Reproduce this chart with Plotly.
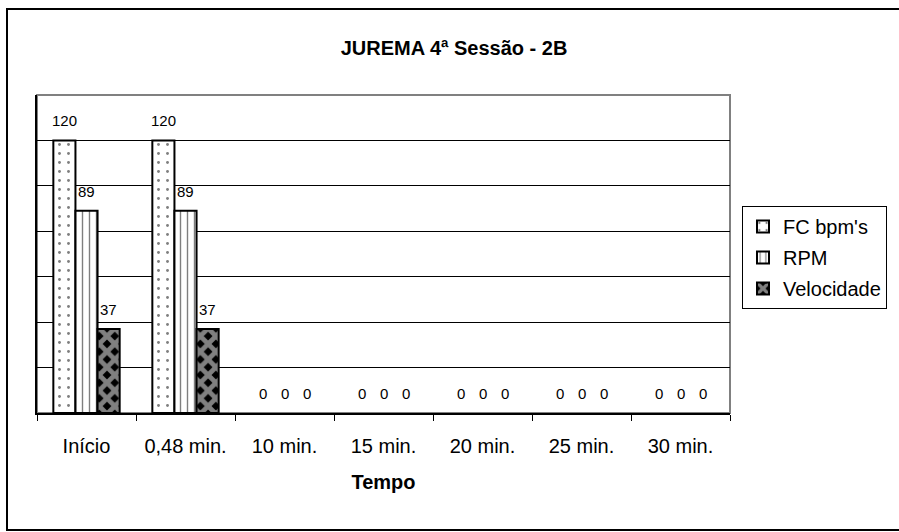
import plotly.graph_objects as go

# Session data: heart rate, cadence and speed at each time point
categories = ["Início", "0,48 min.", "10 min.", "15 min.", "20 min.", "25 min.", "30 min."]
fc_bpm = [120, 120, 0, 0, 0, 0, 0]
rpm = [89, 89, 0, 0, 0, 0, 0]
velocidade = [37, 37, 0, 0, 0, 0, 0]

series_names = ["FC bpm's", "RPM", "Velocidade"]
series_values = [fc_bpm, rpm, velocidade]

W, H = 899, 532
ML, MR, MT, MB = 37, 169, 95, 119
PW, PH = W - ML - MR, H - MT - MB

FONT = "Liberation Sans, Arial, sans-serif"

patterns = [
    dict(shape=".", fgcolor="black", bgcolor="white", size=9, solidity=0.08),
    dict(shape="|", fgcolor="black", bgcolor="white", size=7, solidity=0.2),
    dict(shape="x", fgcolor="white", bgcolor="black", size=11, solidity=0.68),
]

fig = go.Figure()
for i, (name, vals, pat) in enumerate(zip(series_names, series_values, patterns)):
    fig.add_trace(go.Bar(
        name=name, x=categories, y=vals, legendgroup=f"g{i}",
        marker=dict(color="white", pattern=pat,
                    line=dict(color="black", width=[2 if v > 0 else 0 for v in vals])),
    ))

# Value labels above each bar
offsets = [-22, 0, 22]
annotations = []
for vals, dx in zip(series_values, offsets):
    for cat, v in zip(categories, vals):
        annotations.append(dict(
            x=cat, y=v, xref="x", yref="y", text=str(v), showarrow=False,
            xshift=dx, yshift=9, yanchor="bottom",
            font=dict(family=FONT, size=15, color="black"),
        ))

def px_to_paper_x(px):
    return (px - ML) / PW

def px_to_paper_y(py):
    return (H - MB - py) / PH

shapes = [
    # outer chart frame
    dict(type="rect", xref="paper", yref="paper",
         x0=px_to_paper_x(7), x1=px_to_paper_x(905),
         y0=px_to_paper_y(530), y1=px_to_paper_y(9),
         line=dict(color="black", width=2), fillcolor="rgba(0,0,0,0)", layer="below"),
    # plot area border
    dict(type="rect", xref="paper", yref="paper", x0=0, x1=1, y0=0, y1=1,
         line=dict(color="#808080", width=2), fillcolor="rgba(0,0,0,0)", layer="below"),
]

fig.update_layout(
    width=W, height=H,
    margin=dict(l=ML, r=MR, t=MT, b=MB, pad=0),
    paper_bgcolor="white", plot_bgcolor="white",
    barmode="group", bargap=0.33, bargroupgap=0,
    font=dict(family=FONT, color="black"),
    title=dict(text="<b>JUREMA 4ª Sessão - 2B</b>", x=454 / W, xref="container",
               y=1 - 48 / H, yref="container", xanchor="center", yanchor="middle",
               font=dict(family=FONT, size=20, color="black")),
    legend=dict(x=px_to_paper_x(742), y=px_to_paper_y(206), xanchor="left", yanchor="top",
                bordercolor="black", borderwidth=1, bgcolor="white",
                font=dict(family=FONT, size=20, color="black"), traceorder="grouped",
                tracegroupgap=2),
    annotations=annotations,
    shapes=shapes,
)

fig.update_xaxes(
    showline=True, linecolor="black", linewidth=2,
    ticks="outside", ticklen=6, tickcolor="black", tickwidth=1, tickson="boundaries",
    tickfont=dict(family=FONT, size=20, color="black"), ticklabelstandoff=14,
    showgrid=False,
    title=dict(text="<b>Tempo</b>", font=dict(family=FONT, size=20, color="black"), standoff=19),
)
fig.update_yaxes(
    range=[0, 140], tickvals=[20, 40, 60, 80, 100, 120], showticklabels=False,
    showgrid=True, gridcolor="black", gridwidth=1, zeroline=False,
    showline=True, linecolor="black", linewidth=2, ticks="",
)

fig.write_html("out.html")
